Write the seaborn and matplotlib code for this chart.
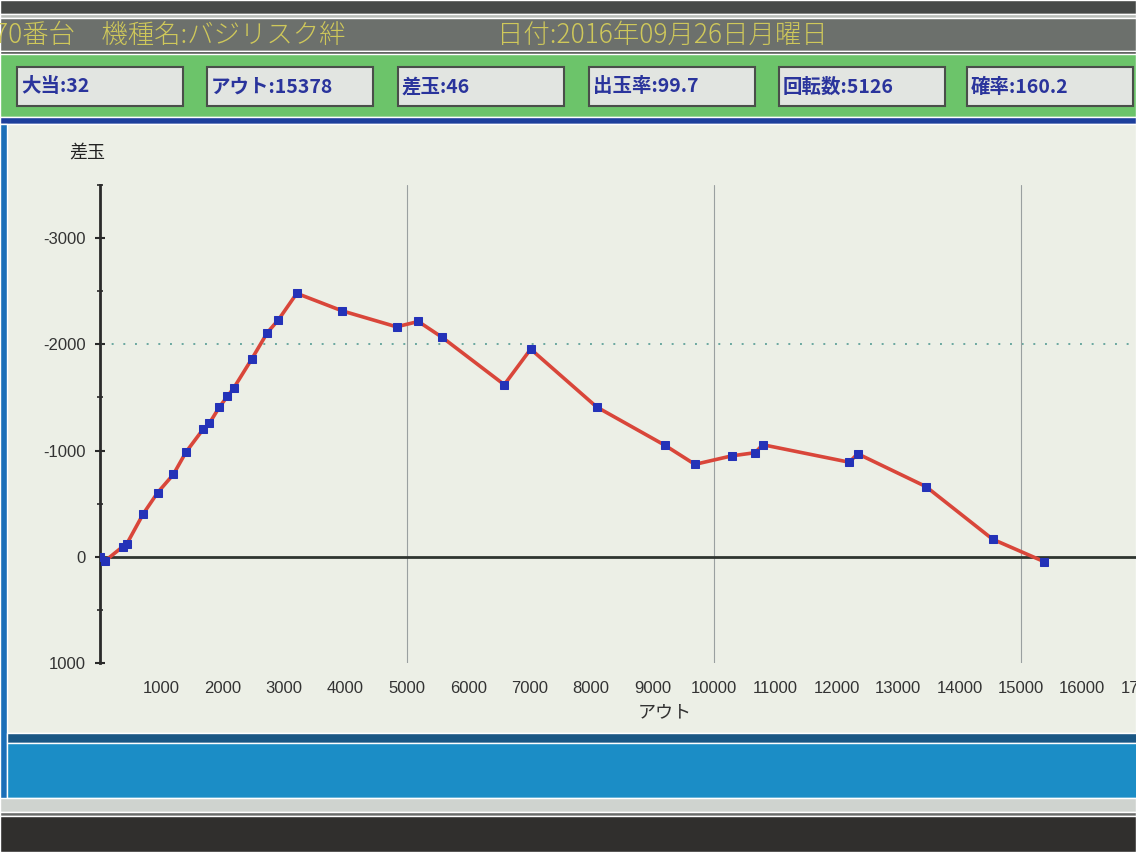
import matplotlib
matplotlib.use("Agg")
import matplotlib.pyplot as plt
from matplotlib.patches import Rectangle
from matplotlib.ticker import MultipleLocator
import seaborn as sns
import pandas as pd

# data
out_vals = [0, 80, 370, 435, 705, 940, 1195, 1400, 1685, 1780, 1945, 2075, 2180,
            2470, 2725, 2905, 3205, 3945, 4830, 5185, 5575, 6585, 7015, 8090,
            9200, 9690, 10290, 10670, 10795, 12205, 12340, 13455, 14540, 15378]
sadama = [0, 40, -95, -120, -405, -605, -775, -985, -1205, -1255, -1410, -1510,
          -1590, -1860, -2110, -2230, -2480, -2315, -2165, -2215, -2065, -1620,
          -1955, -1410, -1050, -870, -950, -980, -1055, -890, -970, -660, -165, 46]

header_left = "70番台　機種名:バジリスク絆"
header_right = "日付:2016年09月26日月曜日"
box_labels = ["大当:32", "アウト:15378", "差玉:46", "出玉率:99.7", "回転数:5126", "確率:160.2"]
y_ticks = [-3000, -2000, -1000, 0, 1000]
x_ticks = list(range(1000, 18000, 1000))

W, H = 1136, 852

sns.set_theme(style="white")
plt.rcParams['font.family'] = ['Liberation Sans', 'Noto Sans CJK JP', 'DejaVu Sans']

fig = plt.figure(figsize=(W / 100, H / 100), dpi=100)
fig.patch.set_facecolor('#ecefe6')


def rect(x, y, w, h, color, z=-2, **kw):
    fig.add_artist(Rectangle((x / W, 1 - (y + h) / H), w / W, h / H,
                             transform=fig.transFigure, facecolor=color,
                             zorder=z, **kw))


# screen frame around the chart
rect(0, 0, W, 14, '#474a48')
rect(0, 14, W, 4, '#b8bcb8')
rect(0, 18, W, 33, '#6c706c')
rect(0, 51, W, 3, '#3c403c')
rect(0, 54, W, 63, '#6cc46a')
rect(0, 117, W, 7, '#1d3f9c')
rect(0, 124, W, 609, '#ecefe6')
rect(0, 124, 7, 676, '#1b6fb8')
rect(7, 733, W, 10, '#1a5784')
rect(7, 743, W, 55, '#1b8dc6')
rect(0, 798, W, 14, '#cfd3cf')
rect(0, 812, W, 4, '#6a6c6a')
rect(0, 816, W, 36, '#302f2d')

# header line (the "7" is cut at the screen edge in the photo)
fig.text(-6 / W, 1 - 35 / H, header_left, color='#cfc85a', fontsize=19,
         fontweight='light', va='center', ha='left', family=['Noto Sans CJK JP'])
fig.text(497 / W, 1 - 35 / H, header_right, color='#cfc85a', fontsize=19,
         fontweight='light', va='center', ha='left', family=['Noto Sans CJK JP'])

box_x = [17, 207, 398, 589, 779, 967]
for bx, lab in zip(box_x, box_labels):
    rect(bx, 67, 166, 39, '#e2e5e1', z=-1, edgecolor='#4a4e4a', linewidth=1.5)
    fig.text((bx + 4) / W, 1 - 87 / H, lab, color='#2a349c', fontsize=14,
             fontweight='bold', va='center', ha='left',
             family=['Noto Sans CJK JP'])

# chart axes: x 0 at px 100, 1000 per 61.4 px; y -3500 at px 185, 1000 at px 663
ax = fig.add_axes([100 / W, 1 - 663 / H, 1056 / W, (663 - 185) / H])
ax.set_facecolor('none')
df = pd.DataFrame({'アウト': out_vals, '差玉': sadama})

ax.axhline(-2000, color='#6aa8a0', linestyle=(0, (1, 5)), linewidth=1.4, zorder=1)
for gx in [5000, 10000, 15000]:
    ax.axvline(gx, color='#9aa0a0', linewidth=0.8, zorder=1)
ax.axhline(0, color='#2f3530', linewidth=2, zorder=2)

sns.lineplot(data=df, x='アウト', y='差玉', ax=ax, color='#d9463a', linewidth=2.6,
             marker='s', markersize=6, markerfacecolor='#2432b8',
             markeredgecolor='#2432b8', estimator=None, zorder=3)

ax.set_xlim(0, 17200)
ax.set_ylim(1000, -3500)
for s in ['top', 'right', 'bottom']:
    ax.spines[s].set_visible(False)
ax.spines['left'].set_color('#2a2a2a')
ax.spines['left'].set_linewidth(2)
ax.set_yticks(y_ticks)
ax.set_yticklabels([str(v) for v in y_ticks])
ax.yaxis.set_minor_locator(MultipleLocator(500))
ax.tick_params(axis='y', which='major', direction='inout', length=7, width=1.5,
               color='#2a2a2a', labelsize=12, labelcolor='#333333', pad=7, left=True)
ax.tick_params(axis='y', which='minor', direction='inout', length=5, width=1.2,
               color='#2a2a2a', left=True)
ax.set_xticks(x_ticks)
ax.set_xticklabels([str(v) for v in x_ticks])
ax.tick_params(axis='x', length=0, labelsize=12, labelcolor='#333333', pad=13)
ax.set_xlabel('')
ax.set_ylabel('')
ax.grid(False)

fig.text(87 / W, 1 - 153 / H, '差玉', fontsize=13, color='#222222', ha='center',
         va='center', family=['Noto Sans CJK JP'])
fig.text(665 / W, 1 - 712 / H, 'アウト', fontsize=13, color='#333333', ha='center',
         va='center', family=['Noto Sans CJK JP'])

fig.savefig('out.png', dpi=100)
